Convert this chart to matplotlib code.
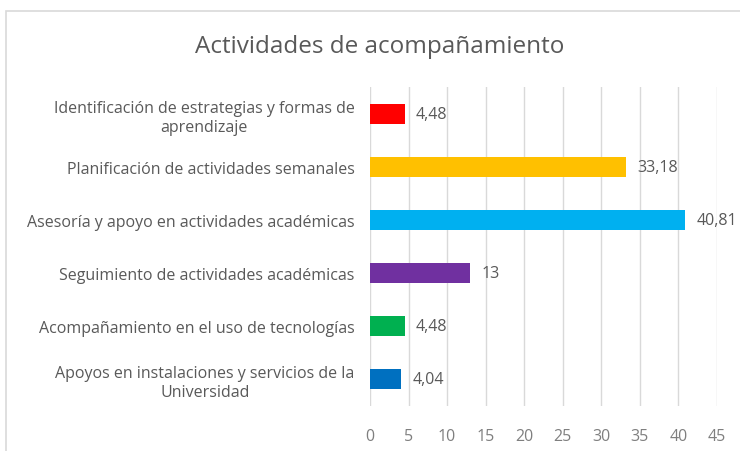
import matplotlib.pyplot as plt
from matplotlib.patches import Rectangle

# datos del gráfico
categorias = [
    "Apoyos en instalaciones y servicios de la\nUniversidad",
    "Acompañamiento en el uso de tecnologías",
    "Seguimiento de actividades académicas",
    "Asesoría y apoyo en actividades académicas",
    "Planificación de actividades semanales",
    "Identificación de estrategias y formas de\naprendizaje",
]
valores = [4.04, 4.48, 13, 40.81, 33.18, 4.48]
etiquetas = ["4,04", "4,48", "13", "40,81", "33,18", "4,48"]
colores = ["#0070C0", "#00B050", "#7030A0", "#00B0F0", "#FFC000", "#FF0000"]
ticks_x = [0, 5, 10, 15, 20, 25, 30, 35, 40, 45]

plt.rcParams['font.family'] = ['Open Sans', 'DejaVu Sans']
gris = "#595959"

fig = plt.figure(figsize=(7.4, 4.52), dpi=100)
ax = fig.add_axes([0.5, 0.1, 0.969 - 0.5, 0.805 - 0.1])

pos = range(len(categorias))
ax.barh(pos, valores, height=0.37, color=colores, zorder=3)

for y, v, t in zip(pos, valores, etiquetas):
    ax.text(v + 1.5, y, t, va="center", ha="left", fontsize=11.5, color=gris)

ax.set_xlim(0, 45)
ax.set_ylim(-0.5, len(categorias) - 0.5)
ax.set_xticks(ticks_x)
ax.set_yticks(list(pos))
ax.set_yticklabels(categorias, fontsize=11.5, color=gris, linespacing=1.25)
for lbl in ax.get_yticklabels():
    lbl.set_multialignment("center")
ax.tick_params(axis="x", length=0, labelsize=11.5, labelcolor="#7f7f7f", pad=16)
ax.tick_params(axis="y", length=0, pad=11)
ax.grid(axis="x", color="#D9D9D9", linewidth=1, zorder=0)
for s in ax.spines.values():
    s.set_visible(False)

# marco del gráfico
fig.patches.append(Rectangle((6 / 740, -0.1), 1.2, 1.1 - 12 / 452 , transform=fig.transFigure,
                             fill=False, edgecolor="#D9D9D9", linewidth=1.2))

fig.text(380 / 740, 1 - 47 / 452, "Actividades de acompañamiento", ha="center", va="center",
         fontsize=17.5, color=gris)

fig.savefig("out.png", dpi=100)
